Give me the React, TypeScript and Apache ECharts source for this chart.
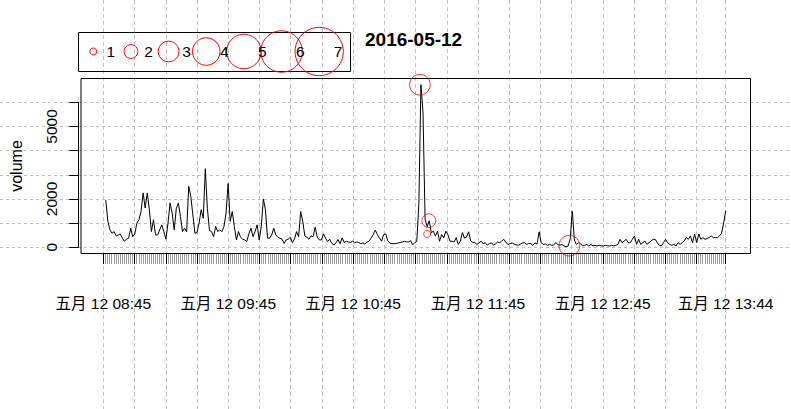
import React, { useEffect, useRef } from "react";
import * as echarts from "echarts";

// ---- data (one value per minute, 08:45 .. 13:44) ----
const volume: number[] = [
  1950, 1070, 720, 580, 650, 470, 510, 555, 375, 250,
  335, 375, 790, 440, 555, 1000, 1140, 1480, 2250, 1625,
  2250, 1555, 650, 1140, 510, 510, 720, 930, 650, 335,
  1000, 1835, 1415, 720, 1600, 1835, 1275, 650, 790, 650,
  2525, 2110, 1345, 580, 610, 1000, 1555, 1200, 3250, 1600,
  700, 650, 440, 860, 650, 720, 650, 860, 1415, 2640,
  1070, 1480, 860, 305, 650, 415, 335, 305, 235, 555,
  790, 440, 650, 930, 305, 860, 2000, 1555, 375, 375,
  510, 790, 510, 415, 375, 335, 165, 305, 335, 415,
  195, 335, 650, 440, 1480, 1070, 470, 415, 335, 470,
  440, 835, 415, 305, 305, 555, 375, 235, 335, 165,
  95, 180, 320, 150, 390, 200, 250, 220, 200, 250,
  190, 220, 200, 150, 180, 130, 220, 250, 390, 525,
  710, 525, 390, 250, 525, 555, 275, 180, 150, 150,
  150, 180, 200, 220, 250, 220, 220, 275, 110, 180,
  250, 1800, 6730, 5600, 1150, 850, 1100, 600, 665, 460,
  665, 250, 525, 390, 665, 525, 250, 250, 220, 400,
  120, 250, 610, 380, 420, 640, 260, 200, 190, 120,
  180, 250, 150, 190, 90, 150, 190, 90, 140, 220,
  190, 260, 330, 200, 120, 150, 180, 130, 100, 80,
  130, 180, 190, 120, 160, 150, 80, 180, 130, 640,
  190, 120, 140, 80, 120, 80, 90, 190, 120, 80,
  120, 55, 30, 55, 350, 1500, 300, 120, 190, 150,
  55, 80, 120, 55, 120, 60, 80, 55, 80, 60,
  55, 80, 60, 55, 80, 60, 80, 120, 330, 190,
  260, 330, 190, 190, 330, 470, 120, 330, 120, 190,
  260, 120, 190, 260, 330, 330, 190, 80, 55, 190,
  330, 190, 120, 80, 120, 55, 190, 120, 190, 260,
  400, 330, 470, 190, 550, 190, 550, 330, 400, 330,
  360, 400, 470, 400, 400, 400, 470, 580, 1000, 1510,
];

const xLabelIdx = [0, 60, 120, 180, 240, 299];
const xLabels = [
  "五月 12 08:45",
  "五月 12 09:45",
  "五月 12 10:45",
  "五月 12 11:45",
  "五月 12 12:45",
  "五月 12 13:44",
];
const yLabelValues = [0, 2000, 5000];

const circleIdx = [151.5, 155, 155.8, 223.6];
const circleVol = [6730, 550, 1100, 66];
const circleSize = [3, 1, 2, 3];

const legendSizes = [1, 2, 3, 4, 5, 6, 7];
const titleText = "2016-05-12";
const yName = "volume";

// ---- layout ----
const W = 791;
const H = 409;
const BOX_L = 78.5;
const BOX_T = 78.5;
const BOX_W = 672;
const BOX_H = 175;
const N = volume.length;
const X_MIN = -0.04 * (N - 1);
const X_MAX = N - 1 + 0.04 * (N - 1);
const Y_MIN = -257;
const Y_MAX = 6984;
const pxX = (v: number) => BOX_L + ((v - X_MIN) / (X_MAX - X_MIN)) * BOX_W;
const pxY = (v: number) => BOX_T + ((Y_MAX - v) / (Y_MAX - Y_MIN)) * BOX_H;

const FONT = "'Liberation Sans', Arial, 'Noto Sans CJK SC', sans-serif";
const GRID_COLOR = "#c0c0c0";
const R_UNIT = 3.45;

const tickLeft = pxX(0);
const tickWidth = pxX(N - 1) - pxX(0);
const tickTop = pxY(6000);
const tickHeight = pxY(0) - pxY(6000);

function buildOption(): any {
  const lineData = volume.map((v, i) => [i, v]);
  const circleData = circleIdx.map((x, i) => [x, circleVol[i], circleSize[i]]);

  const legendGraphics: any[] = [
    {
      type: "rect",
      shape: { x: 78.5, y: 32.5, width: 272, height: 39 },
      style: { fill: "none", stroke: "#000", lineWidth: 1 },
      z: 10,
    },
  ];
  legendSizes.forEach((s, k) => {
    legendGraphics.push({
      type: "circle",
      shape: { cx: 93.3 + 37.65 * k, cy: 51.5, r: R_UNIT * s },
      style: { fill: "none", stroke: "#ff0000", lineWidth: 1 },
      z: 10,
    });
    legendGraphics.push({
      type: "text",
      x: 110.7 + 37.9 * k,
      y: 51.5,
      style: {
        text: String(s),
        fill: "#000",
        font: `15.5px ${FONT}`,
        textAlign: "center",
        textVerticalAlign: "middle",
      },
      z: 11,
    });
  });

  return {
    animation: false,
    backgroundColor: "#ffffff",
    textStyle: { fontFamily: FONT, color: "#000" },
    title: {
      text: titleText,
      left: 365,
      top: 30,
      padding: 0,
      textStyle: { fontSize: 19, fontWeight: "bold", color: "#000", fontFamily: FONT },
    },
    graphic: legendGraphics,
    grid: [
      // 0: plot box (data)
      { left: BOX_L, top: BOX_T, width: BOX_W, height: BOX_H, show: true, borderColor: "#000", borderWidth: 1, backgroundColor: "transparent", z: 1 },
      // 1: x ticks (bottom edge = box bottom)
      { left: tickLeft, top: BOX_T, width: tickWidth, height: BOX_H },
      // 2: vertical grid lines across the page
      { left: tickLeft, top: 0, width: tickWidth, height: H },
      // 3: horizontal grid lines across the page
      { left: 0, top: tickTop, width: W, height: tickHeight },
      // 4: y ticks (left edge = box left)
      { left: BOX_L, top: tickTop, width: BOX_W, height: tickHeight },
    ],
    xAxis: [
      { gridIndex: 0, type: "value", min: X_MIN, max: X_MAX, show: false },
      {
        gridIndex: 1,
        type: "value",
        min: 0,
        max: N - 1,
        interval: 15,
        position: "bottom",
        axisLine: { show: true, lineStyle: { color: "#000", width: 1 } },
        axisTick: { show: true, length: 10.5, lineStyle: { color: "#000", width: 1 } },
        minorTick: { show: true, splitNumber: 15, length: 10.5, lineStyle: { color: "#9a9a9a", width: 1 } },
        splitLine: { show: false },
        axisLabel: {
          show: true,
          margin: 42,
          fontSize: 15.5,
          color: "#000",
          fontFamily: FONT,
          showMinLabel: true,
          showMaxLabel: true,
          formatter: (v: number) => {
            const k = xLabelIdx.indexOf(Math.round(v));
            return k >= 0 ? xLabels[k] : "";
          },
        },
      },
      {
        gridIndex: 2,
        type: "value",
        min: 0,
        max: N - 1,
        interval: 15,
        axisLine: { show: false },
        axisTick: { show: false },
        axisLabel: { show: false },
        splitLine: { show: true, lineStyle: { color: GRID_COLOR, type: [4, 3], width: 1 } },
      },
      { gridIndex: 3, type: "value", min: 0, max: 1, show: false },
      { gridIndex: 4, type: "value", min: 0, max: 1, show: false },
    ],
    yAxis: [
      {
        gridIndex: 0,
        type: "value",
        min: Y_MIN,
        max: Y_MAX,
        axisLine: { show: false },
        axisTick: { show: false },
        axisLabel: { show: false },
        splitLine: { show: false },
        name: yName,
        nameLocation: "middle",
        nameRotate: 90,
        nameGap: 57,
        nameTextStyle: { fontSize: 16, color: "#000", fontFamily: FONT },
      },
      { gridIndex: 1, type: "value", min: 0, max: 1, show: false },
      { gridIndex: 2, type: "value", min: 0, max: 1, show: false },
      {
        gridIndex: 3,
        type: "value",
        min: 0,
        max: 6000,
        interval: 1000,
        axisLine: { show: false },
        axisTick: { show: false },
        axisLabel: { show: false },
        splitLine: { show: true, lineStyle: { color: GRID_COLOR, type: [3, 3], width: 1 } },
      },
      {
        gridIndex: 4,
        type: "value",
        min: 0,
        max: 6000,
        interval: 1000,
        position: "left",
        axisLine: { show: true, lineStyle: { color: "#000", width: 1 } },
        axisTick: { show: true, inside: false, length: 9.3, lineStyle: { color: "#000", width: 1 } },
        splitLine: { show: false },
        axisLabel: {
          show: true,
          rotate: 90,
          margin: 19,
          fontSize: 15.5,
          color: "#000",
          fontFamily: FONT,
          formatter: (v: number) => (yLabelValues.indexOf(v) >= 0 ? String(v) : ""),
        },
        z: 8,
      },
    ],
    series: [
      {
        type: "line",
        xAxisIndex: 0,
        yAxisIndex: 0,
        data: lineData,
        symbol: "none",
        showSymbol: false,
        lineStyle: { color: "#000", width: 1 },
        z: 5,
      },
      {
        type: "scatter",
        xAxisIndex: 0,
        yAxisIndex: 0,
        data: circleData,
        symbol: "circle",
        symbolSize: (val: number[]) => 2 * R_UNIT * val[2],
        itemStyle: { color: "rgba(0,0,0,0)", borderColor: "#ff0000", borderWidth: 1 },
        clip: false,
        z: 6,
      },
    ],
  };
}

export default function App() {
  const ref = useRef<HTMLDivElement>(null);
  useEffect(() => {
    if (!ref.current) return;
    const chart = echarts.init(ref.current, null, { renderer: "svg" });
    chart.setOption(buildOption());
    return () => chart.dispose();
  }, []);
  return (
    <div
      ref={ref}
      style={{ position: "fixed", left: 0, top: 0, width: W, height: H, background: "#fff" }}
    />
  );
}
